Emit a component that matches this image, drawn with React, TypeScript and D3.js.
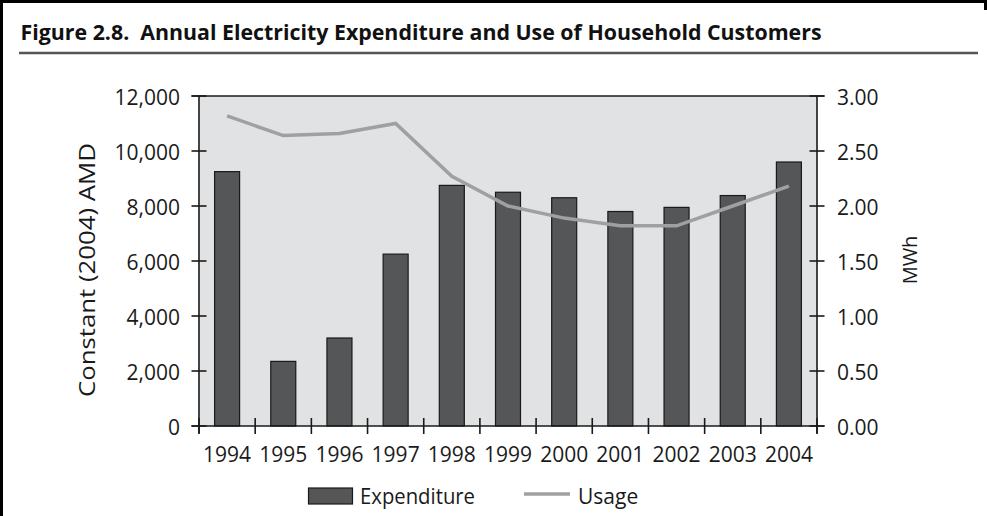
import React from "react";
import * as d3 from "d3";

const years = ["1994", "1995", "1996", "1997", "1998", "1999", "2000", "2001", "2002", "2003", "2004"];
const expenditure = [9250, 2350, 3200, 6250, 8750, 8500, 8300, 7800, 7950, 8380, 9600];
const usage = [2.82, 2.64, 2.66, 2.75, 2.27, 2.0, 1.89, 1.82, 1.82, 2.0, 2.18];
const leftTicks = [0, 2000, 4000, 6000, 8000, 10000, 12000];
const rightTicks = [0, 0.5, 1.0, 1.5, 2.0, 2.5, 3.0];

const W = 987;
const H = 516;
const left = 199;
const right = 817;
const top = 96;
const bottom = 426;
const FONT = "'Open Sans', 'DejaVu Sans', sans-serif";

export default function App() {
  const x = d3.scaleBand<string>().domain(years).range([left, right]).padding(0);
  const yL = d3.scaleLinear().domain([0, 12000]).range([bottom, top]);
  const yR = d3.scaleLinear().domain([0, 3]).range([bottom, top]);
  const bw = x.bandwidth() * 0.445;
  const fmtL = d3.format(",");
  const fmtR = d3.format(".2f");
  const line = d3
    .line<number>()
    .x((_, i) => (x(years[i]) as number) + x.bandwidth() / 2)
    .y((d) => yR(d));
  const tick = 7.5;
  const bandEdges = years.map((y) => x(y) as number).concat([right]);

  return (
    <svg
      width={W}
      height={H}
      style={{ position: "absolute", left: 0, top: 0, background: "#fff" }}
      fontFamily={FONT}
    >
      {/* frame */}
      <line x1={0} y1={1.5} x2={W} y2={1.5} stroke="#000" strokeWidth={3} />
      <line x1={1.5} y1={0} x2={1.5} y2={H} stroke="#000" strokeWidth={3} />
      <line x1={W - 1.5} y1={0} x2={W - 1.5} y2={10} stroke="#000" strokeWidth={3} />

      {/* title */}
      <text
        x={20.5}
        y={40}
        fontSize={22}
        fontWeight="bold"
        fill="#111"
        textLength={801}
        lengthAdjust="spacingAndGlyphs"
      >
        {"Figure 2.8.\u00a0 Annual Electricity Expenditure and Use of Household Customers"}
      </text>
      <line x1={19} y1={53} x2={978} y2={53} stroke="#555" strokeWidth={2.5} />

      {/* plot area */}
      <rect x={left} y={top} width={right - left} height={bottom - top} fill="#e1e2e4" />

      {/* bars */}
      {expenditure.map((v, i) => {
        const cx = (x(years[i]) as number) + x.bandwidth() / 2;
        return (
          <rect
            key={years[i]}
            x={cx - bw / 2}
            y={yL(v)}
            width={bw}
            height={bottom - yL(v)}
            fill="#555658"
            stroke="#1a1a1a"
            strokeWidth={1.2}
          />
        );
      })}

      {/* usage line */}
      <path d={line(usage) || ""} fill="none" stroke="#9fa0a1" strokeWidth={3.5} strokeLinejoin="miter" />

      {/* frame lines top & bottom */}
      <line x1={left - tick} y1={top} x2={right + tick} y2={top} stroke="#1a1a1a" strokeWidth={1.6} />
      <line x1={left - tick} y1={bottom} x2={right + tick} y2={bottom} stroke="#1a1a1a" strokeWidth={1.6} />
      <line x1={left} y1={top} x2={left} y2={bottom + tick} stroke="#1a1a1a" strokeWidth={1.6} />
      <line x1={right} y1={top} x2={right} y2={bottom + tick} stroke="#1a1a1a" strokeWidth={1.6} />

      {/* left axis */}
      {leftTicks.map((t) => (
        <g key={"l" + t}>
          <line x1={left - tick} x2={left + tick} y1={yL(t)} y2={yL(t)} stroke="#1a1a1a" strokeWidth={1.6} />
          <text x={180} y={yL(t) + 8.5} textAnchor="end" fontSize={21} fill="#1a1a1a">
            {fmtL(t)}
          </text>
        </g>
      ))}

      {/* right axis */}
      {rightTicks.map((t) => (
        <g key={"r" + t}>
          <line x1={right - tick} x2={right + tick} y1={yR(t)} y2={yR(t)} stroke="#1a1a1a" strokeWidth={1.6} />
          <text x={837} y={yR(t) + 8.5} textAnchor="start" fontSize={21} fill="#1a1a1a">
            {fmtR(t)}
          </text>
        </g>
      ))}

      {/* x axis */}
      {bandEdges.map((e, i) => (
        <line key={"x" + i} x1={e} x2={e} y1={bottom - 8} y2={bottom + 8} stroke="#1a1a1a" strokeWidth={1.6} />
      ))}
      {years.map((y) => (
        <text
          key={"xl" + y}
          x={(x(y) as number) + x.bandwidth() / 2}
          y={461.5}
          textAnchor="middle"
          fontSize={21}
          fill="#1a1a1a"
        >
          {y}
        </text>
      ))}

      {/* axis titles */}
      <text
        transform={`translate(95,270) rotate(-90)`}
        textAnchor="middle"
        fontSize={21}
        fill="#1a1a1a"
        textLength={254}
        lengthAdjust="spacingAndGlyphs"
      >
        Constant (2004) AMD
      </text>
      <text transform={`translate(917,260) rotate(-90)`} textAnchor="middle" fontSize={20} fill="#1a1a1a">
        MWh
      </text>

      {/* legend */}
      <rect x={308.5} y={488} width={44} height={16} fill="#555658" stroke="#1a1a1a" strokeWidth={1.2} />
      <text x={360} y={504} fontSize={21} fill="#1a1a1a" textLength={115} lengthAdjust="spacingAndGlyphs">
        Expenditure
      </text>
      <line x1={524} y1={494} x2={570} y2={494} stroke="#9fa0a1" strokeWidth={3.5} />
      <text x={578} y={504} fontSize={21} fill="#1a1a1a">
        Usage
      </text>
    </svg>
  );
}
